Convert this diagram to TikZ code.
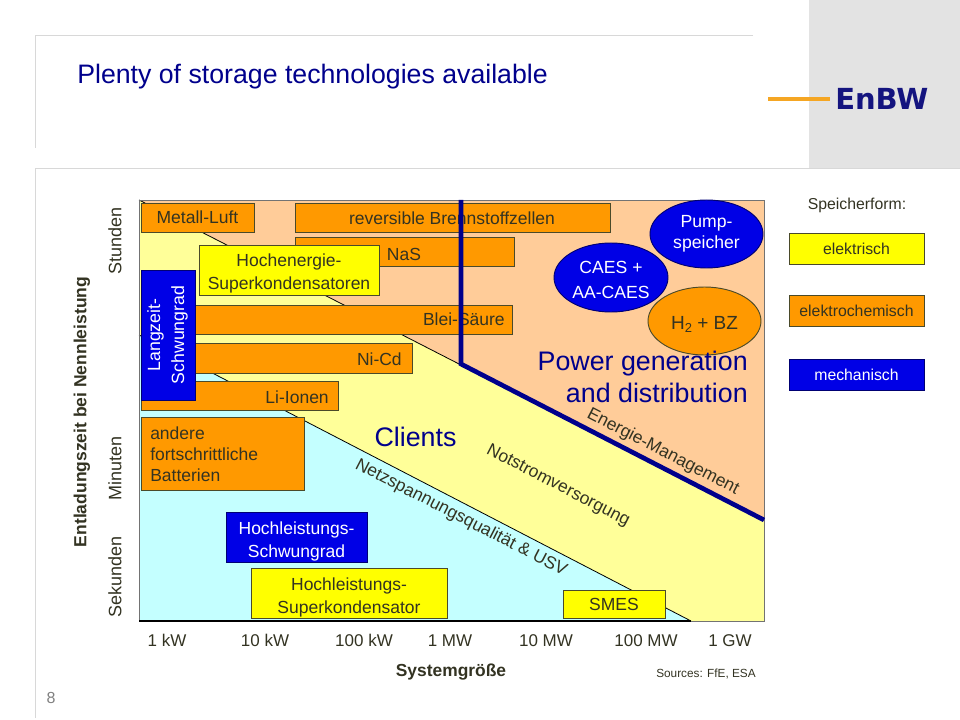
\documentclass[tikz,border=0pt]{standalone}
\usepackage{fontspec}
\setmainfont{Liberation Sans}
\newfontfamily\logofont{DejaVu Sans}
\definecolor{peach}{HTML}{FFCC99}
\definecolor{paleyellow}{HTML}{FFFF99}
\definecolor{palecyan}{HTML}{C4FFFF}
\definecolor{boxorange}{HTML}{FF9900}
\definecolor{boxyellow}{HTML}{FFFF00}
\definecolor{boxblue}{HTML}{0000E6}
\definecolor{navy}{HTML}{00008C}
\definecolor{logoblue}{HTML}{14147F}
\definecolor{logoline}{HTML}{F5A623}
\definecolor{txt}{HTML}{333322}
\definecolor{rule}{HTML}{D8D8D8}
\definecolor{panel}{HTML}{E3E3E3}
\definecolor{edge}{HTML}{4A4A2A}
\newcommand{\px}[1]{\fontsize{\fpeval{#1*0.75}}{\fpeval{#1*0.9}}\selectfont}
\newcommand{\lowr}[1]{\rule{0pt}{#1pt}}
\tikzset{
  base/.style={draw=edge,line width=0.7pt,inner sep=0pt,align=center,text=txt},
  obox/.style={base,fill=boxorange},
  ybox/.style={base,fill=boxyellow},
  bbox/.style={base,draw=black!50!boxblue,fill=boxblue,text=white},
  lab/.style={inner sep=0pt,text=txt,font=\px{17.5}},
  tick/.style={inner sep=0pt,anchor=base,text=txt,font=\px{17}},
  diag/.style={lab,rotate=-27.3},
  heading/.style={inner sep=0pt,text=navy,align=right,font=\px{26.8}},
  sep/.style={draw=rule,line width=0.7pt},
  bound/.style={draw=black,line width=0.6pt},
  elect/.style={ellipse,base}
}
\newcommand{\bx}[7]{%
  \pgfmathsetmacro{\cxv}{(#3+#5)/2}\pgfmathsetmacro{\cyv}{(#4+#6)/2}%
  \pgfmathsetmacro{\wv}{(#5-#3)*0.75}\pgfmathsetmacro{\hv}{(#6-#4)*0.75}%
  \node[#1,minimum width=\wv pt,minimum height=\hv pt,font=\px{17.5}] (#2) at (\cxv,\cyv) {#7};}
\usetikzlibrary{shapes.geometric}
\begin{document}
\begin{tikzpicture}[x=0.75pt,y=-0.75pt]
\useasboundingbox (0,0) rectangle (960,720);
% slide frame
\fill[panel] (809,0) rectangle (960,168);
\draw[sep] (753,35) -- (35,35) -- (35,148);
\draw[sep] (960,168) -- (35,168) -- (35,718);
\node[inner sep=0pt,anchor=west,text=navy,font=\px{26.7}] (title) at (77,77) {Plenty of storage technologies available};
\coordinate (logoL) at (768,99);
\coordinate (logoR) at (830,99);
\draw[draw=logoline,line width=2.6pt] (logoL) -- (logoR);
\node[inner sep=0pt,anchor=west,text=logoblue,font=\logofont\bfseries\px{29}] (logo) at (835,99) {EnBW};
\node[inner sep=0pt,text=black!50,font=\px{16}] (pagenum) at (51,698) {8};
% plot regions
\fill[peach] (139,200) rectangle (764,621);
\fill[paleyellow] (139,200) -- (461,365) -- (764,520) -- (764,621) -- (139,621) -- cycle;
\fill[palecyan] (139,335) -- (691,621) -- (139,621) -- cycle;
\draw[bound] (139,200) -- (461,365);
\draw[bound] (139,335) -- (691,621);
\draw[draw=black!55,line width=0.7pt] (139,621) -- (139,200) -- (764,200) -- (764,621) -- (691,621);
\draw[draw=black,line width=1.5pt] (139,621) -- (691,621);
% boxes
\bx{obox}{metall}{141}{203}{254}{232}{Metall-Luft}
\bx{obox}{rev}{295}{203}{610}{232}{}
\node[lab] (revt) at (452,218.5) {reversible Brennstoffzellen};
\bx{obox}{nas}{295}{237}{514}{266}{}
\node[lab] (nast) at (404,254) {NaS};
\bx{obox}{blei}{141}{305}{512}{334}{}
\node[lab,anchor=east] (bleit) at (505,319.5) {Blei-Säure};
\bx{obox}{nicd}{141}{343}{412}{373}{}
\node[lab,anchor=east] (nicdt) at (402,359.5) {Ni-Cd};
\bx{obox}{li}{141}{381}{338}{410}{}
\node[lab,anchor=east] (lit) at (329,397) {Li-Ionen};
\bx{obox}{andere}{141}{417}{304}{490}{}
\node[lab,anchor=west,align=left] (anderet) at (150,454) {andere\\fortschrittliche\\Batterien};
\bx{ybox}{hoch}{199}{245}{379}{295}{\lowr{14.5}Hochenergie-\\[2pt]Superkondensatoren}
\node[bbox,minimum width=40.5pt,minimum height=97.5pt] (lang) at (168,335) {};
\node[inner sep=0pt,rotate=90,align=center,text=white,font=\px{17.7}] (langt) at (167.5,335) {Langzeit-\\[2pt]Schwungrad};
\bx{bbox}{schw}{226}{512}{367}{562}{\lowr{16}Hochleistungs-\\[2pt]Schwungrad}
\bx{ybox}{supk}{251}{568}{447}{618}{\lowr{16}Hochleistungs-\\[2pt]Superkondensator}
\bx{ybox}{smes}{563}{590}{665}{618}{SMES}
% ellipses
\node[elect,fill=boxblue,draw=black!50!boxblue,text=white,minimum width=84.75pt,minimum height=51pt,font=\px{17.6}] (pump) at (706.5,234) {Pump-\\speicher};
\node[elect,fill=boxblue,draw=black!50!boxblue,text=white,minimum width=85.5pt,minimum height=51.75pt,font=\px{17.6}] (caes) at (611,277.5) {\lowr{12.5}CAES +\\[3pt]AA-CAES};
\node[elect,fill=boxorange,minimum width=84.75pt,minimum height=51pt,font=\px{19}] (h2) at (704.5,321) {\lowr{15}H\raisebox{-0.35ex}{\px{13}2} + BZ};
% thick boundary
\coordinate (bTop) at (461,200);
\coordinate (bMid) at (461,364);
\coordinate (bEnd) at (764,520);
\draw[draw=navy,line width=3.5pt,line join=miter] (bTop) -- (bMid) -- (bEnd);
% headings
\node[heading,anchor=east] (power) at (748,377) {Power generation\\and distribution};
\node[heading] (clients) at (415.5,437) {Clients};
% diagonal labels
\node[diag] (energie) at (663,452) {Energie-Management};
\node[diag] (not) at (558,486) {Notstromversorgung};
\node[diag] (netz) at (461,518) {Netzspannungsqualität \& USV};
% axes
\node[lab,rotate=90,font=\px{18}] (stunden) at (115,241) {Stunden};
\node[lab,rotate=90,font=\px{18}] (minuten) at (115,468) {Minuten};
\node[lab,rotate=90,font=\px{18}] (sekunden) at (115,577) {Sekunden};
\node[inner sep=0pt,rotate=90,text=txt,font=\bfseries\px{17.5}] (yaxis) at (82,412) {Entladungszeit bei Nennleistung};
\node[tick] (t1) at (167,646) {1 kW};
\node[tick] (t2) at (265,646) {10 kW};
\node[tick] (t3) at (364,646) {100 kW};
\node[tick] (t4) at (450,646) {1 MW};
\node[tick] (t5) at (546,646) {10 MW};
\node[tick] (t6) at (646,646) {100 MW};
\node[tick] (t7) at (730,646) {1 GW};
\node[inner sep=0pt,text=txt,font=\bfseries\px{17.4}] (xaxis) at (451,672) {Systemgröße};
\node[inner sep=0pt,anchor=east,text=txt,font=\px{11.8}] (src) at (756,674) {Sources: FfE, ESA};
% legend
\node[lab,font=\px{15.8}] (legt) at (857,205) {Speicherform:};
\bx{ybox}{lega}{789}{233}{924}{264}{\px{15.8}elektrisch}
\bx{obox}{legb}{789}{295}{924}{326}{\px{15.8}elektrochemisch}
\bx{bbox}{legc}{789}{359}{924}{390}{\px{15.8}mechanisch}
\end{tikzpicture}
\end{document}
